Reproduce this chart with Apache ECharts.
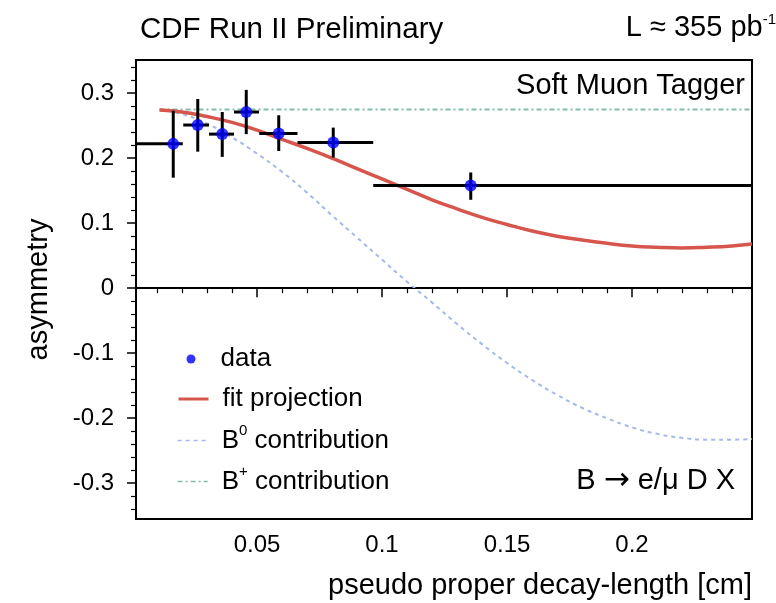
<!DOCTYPE html>
<html><head><meta charset="utf-8">
<script src="https://cdn.jsdelivr.net/npm/echarts@6/dist/echarts.min.js"></script>
<style>html,body{margin:0;padding:0;background:#fff}#c{width:776px;height:603px}</style>
</head><body><div id="c"></div>
<script>
// ---- data points (with bin widths and errors) ----
const dataX = [0.0165, 0.0263, 0.0361, 0.0457, 0.0587, 0.0805, 0.1355];
const dataY = [0.222, 0.251, 0.237, 0.271, 0.238, 0.224, 0.158];
const xLow  = [0.0, 0.0205, 0.0308, 0.0408, 0.0509, 0.0662, 0.0965];
const xHigh = [0.0203, 0.0308, 0.0408, 0.0508, 0.0662, 0.0965, 0.26];
const yLow  = [0.170, 0.210, 0.202, 0.237, 0.211, 0.201, 0.136];
const yHigh = [0.273, 0.291, 0.271, 0.305, 0.266, 0.247, 0.178];
// ---- curves ----
const curveX = [0.011, 0.02, 0.03, 0.04, 0.05, 0.06, 0.07, 0.08, 0.09, 0.10, 0.11, 0.12, 0.13,
                0.14, 0.15, 0.16, 0.17, 0.18, 0.19, 0.20, 0.21, 0.22, 0.23, 0.24, 0.248];
const fitY = [0.274, 0.271, 0.264, 0.255, 0.243, 0.229, 0.215, 0.200, 0.184, 0.168, 0.152, 0.136, 0.122,
              0.109, 0.098, 0.088, 0.080, 0.074, 0.069, 0.065, 0.063, 0.062, 0.063, 0.065, 0.068];
const b0Y  = [0.274, 0.268, 0.253, 0.232, 0.207, 0.179, 0.147, 0.112, 0.078, 0.044, 0.010, -0.022, -0.055,
              -0.086, -0.115, -0.141, -0.164, -0.184, -0.200, -0.214, -0.224, -0.230, -0.233, -0.233, -0.232];
const bPlusX = [0.011, 0.248];
const bPlusY = [0.275, 0.275];
// ---- ticks ----
const xMajorTicks = [0.05, 0.1, 0.15, 0.2];
const xMinorTicks = [0.01, 0.02, 0.03, 0.04, 0.06, 0.07, 0.08, 0.09, 0.11, 0.12, 0.13, 0.14,
                     0.16, 0.17, 0.18, 0.19, 0.21, 0.22, 0.23, 0.24];
const yMajorTicks = [-0.3, -0.2, -0.1, 0, 0.1, 0.2, 0.3];
const yMinorTicks = [-0.34, -0.32, -0.28, -0.26, -0.24, -0.22, -0.18, -0.16, -0.14, -0.12,
                     -0.08, -0.06, -0.04, -0.02, 0.02, 0.04, 0.06, 0.08, 0.12, 0.14, 0.16, 0.18,
                     0.22, 0.24, 0.26, 0.28, 0.32, 0.34];

const FONT = "'Liberation Sans', Arial, Helvetica, sans-serif";
const X_MIN = 0.0016, X_MAX = 0.248, Y_MIN = -0.355, Y_MAX = 0.351;

const zip = (xs, ys) => xs.map((x, i) => [x, ys[i]]);
const legRich = {
  n: { fontSize: 26, lineHeight: 26, fontFamily: FONT, color: '#000', verticalAlign: 'bottom' },
  sup: { fontSize: 15, lineHeight: 15, fontFamily: FONT, color: '#000', verticalAlign: 'bottom', padding: [0, 0, 15, 0] }
};
const titleRich = {
  n: { fontSize: 29, lineHeight: 29, fontFamily: FONT, color: '#000', verticalAlign: 'bottom' },
  sup: { fontSize: 15, lineHeight: 15, fontFamily: FONT, color: '#000', verticalAlign: 'bottom', padding: [0, 0, 15.5, 0] }
};
const arrowRich = {
  n: { fontSize: 29, fontFamily: FONT, color: '#000' },
  a: { fontSize: 31, fontFamily: "'DejaVu Sans', sans-serif", color: '#000' }
};
const legFmt = n => {
  if (n.startsWith('B0')) return '{n|B}{sup|0}{n|' + n.slice(2) + '}';
  if (n.startsWith('B+')) return '{n|B}{sup|+}{n|' + n.slice(2) + '}';
  return '{n|' + n + '}';
};

const chart = echarts.init(document.getElementById('c'), null, { renderer: 'canvas' });
const legendBase = (name, left, top, iw, ih, pad, extra) => Object.assign({
  data: [name], left: left, top: top, orient: 'vertical', padding: 0,
  itemWidth: iw, itemHeight: ih, selectedMode: false,
  textStyle: { fontSize: 26, fontFamily: FONT, color: '#000', padding: [0, 0, 0, pad], rich: legRich },
  formatter: legFmt
}, extra || {});

chart.setOption({
  animation: false,
  backgroundColor: '#fff',
  grid: { left: 136, right: 24, top: 60, bottom: 84, show: true, borderColor: '#000', borderWidth: 2, backgroundColor: 'transparent' },
  title: [
    { text: 'CDF Run II Preliminary', left: 140, top: 15, padding: 0,
      textStyle: { fontSize: 29.5, fontWeight: 'normal', fontFamily: FONT, color: '#000' } },
    { text: '{n|L \u2248 355 pb}{sup|-1}', right: 0, top: 13.5, padding: 0,
      textStyle: { fontSize: 29, fontWeight: 'normal', fontFamily: FONT, color: '#000', rich: titleRich } },
    { text: 'Soft Muon Tagger', right: 31, top: 71, padding: 0,
      textStyle: { fontSize: 29, fontWeight: 'normal', fontFamily: FONT, color: '#000' } },
    { text: '{n|B }{a|\u2192}{n| e/\u03bc D X}', right: 41, top: 465, padding: 0,
      textStyle: { fontSize: 29, fontWeight: 'normal', fontFamily: FONT, color: '#000', rich: arrowRich } },
    { text: 'pseudo proper decay-length [cm]', right: 24, top: 571, padding: 0,
      textStyle: { fontSize: 29, fontWeight: 'normal', fontFamily: FONT, color: '#000' } }
  ],
  legend: [
    legendBase('data', 186.5, 346, 9, 9, 20),
    legendBase('fit projection', 177, 386, 30, 12, 9, { itemStyle: { opacity: 0 }, lineStyle: { width: 3 } }),
    legendBase('B0 contribution', 177, 423.5, 30, 12, 9, { itemStyle: { opacity: 0 }, lineStyle: { width: 1.3 } }),
    legendBase('B+ contribution', 177, 464.5, 30, 12, 9, { itemStyle: { opacity: 0 }, lineStyle: { width: 1.3 } })
  ],
  xAxis: [
    { type: 'value', min: X_MIN, max: X_MAX, position: 'bottom',
      axisLine: { show: true, lineStyle: { color: '#000', width: 2 } },
      axisTick: { show: true, customValues: xMajorTicks, length: 9, lineStyle: { color: '#000', width: 1.5 } },
      axisLabel: { show: true, customValues: xMajorTicks, fontSize: 24, fontFamily: FONT, color: '#000', margin: 14 },
      splitLine: { show: false } },
    { type: 'value', min: X_MIN, max: X_MAX, position: 'bottom', gridIndex: 0,
      axisLine: { show: false },
      axisTick: { show: true, customValues: xMinorTicks, length: 5, lineStyle: { color: '#000', width: 1.2 } },
      axisLabel: { show: false }, splitLine: { show: false } }
  ],
  yAxis: [
    { type: 'value', min: Y_MIN, max: Y_MAX, position: 'left',
      name: 'asymmetry', nameLocation: 'middle', nameGap: 83, nameRotate: 90,
      nameTextStyle: { fontSize: 29, fontFamily: FONT, color: '#000' },
      axisLine: { show: true, lineStyle: { color: '#000', width: 2 } },
      axisTick: { show: true, customValues: yMajorTicks, length: 9, lineStyle: { color: '#000', width: 1.5 } },
      axisLabel: { show: true, customValues: yMajorTicks, fontSize: 24, fontFamily: FONT, color: '#000', margin: 22,
                   formatter: v => (v === 0 ? '0' : v.toFixed(1)) },
      splitLine: { show: false } },
    { type: 'value', min: Y_MIN, max: Y_MAX, position: 'left', gridIndex: 0,
      axisLine: { show: false },
      axisTick: { show: true, customValues: yMinorTicks, length: 5, lineStyle: { color: '#000', width: 1.2 } },
      axisLabel: { show: false }, splitLine: { show: false } }
  ],
  series: [
    { name: 'B+ contribution', type: 'line', data: zip(bPlusX, bPlusY), symbol: 'none', z: 2,
      lineStyle: { color: '#7fbfa5', width: 2, type: [5, 3, 2, 3] }, itemStyle: { color: '#7fbfa5' } },
    { name: 'B0 contribution', type: 'line', data: zip(curveX, b0Y), symbol: 'none', smooth: true, z: 2,
      lineStyle: { color: '#a6b9e6', width: 2, type: [4, 4] }, itemStyle: { color: '#a6b9e6' } },
    { name: 'fit projection', type: 'line', data: zip(curveX, fitY), symbol: 'none', smooth: true, z: 3,
      lineStyle: { color: '#d6564d', width: 3.5 }, itemStyle: { color: '#d6564d' },
      markLine: { silent: true, symbol: 'none', label: { show: false }, animation: false,
                  lineStyle: { color: '#000', width: 1, type: 'solid' }, data: [{ yAxis: 0 }] } },
    { name: 'errors', type: 'custom', z: 4,
      data: dataX.map((x, i) => [x, dataY[i], xLow[i], xHigh[i], yLow[i], yHigh[i]]),
      encode: { x: 0, y: 1 },
      renderItem: (params, api) => {
        const cs = params.coordSys;
        const c = api.coord([api.value(0), api.value(1)]);
        let l = api.coord([api.value(2), api.value(1)])[0];
        let r = api.coord([api.value(3), api.value(1)])[0];
        l = Math.max(l, cs.x); r = Math.min(r, cs.x + cs.width);
        const t = api.coord([api.value(0), api.value(5)])[1];
        const b = api.coord([api.value(0), api.value(4)])[1];
        return { type: 'group', children: [
          { type: 'line', shape: { x1: l, y1: c[1], x2: r, y2: c[1] }, style: { stroke: '#000', lineWidth: 3 } },
          { type: 'line', shape: { x1: c[0], y1: t, x2: c[0], y2: b }, style: { stroke: '#000', lineWidth: 3 } }
        ] };
      } },
    { name: 'data', type: 'scatter', data: zip(dataX, dataY), symbol: 'circle', symbolSize: 12, z: 5,
      itemStyle: { color: '#0000ff' } }
  ]
});
</script>
</body></html>
